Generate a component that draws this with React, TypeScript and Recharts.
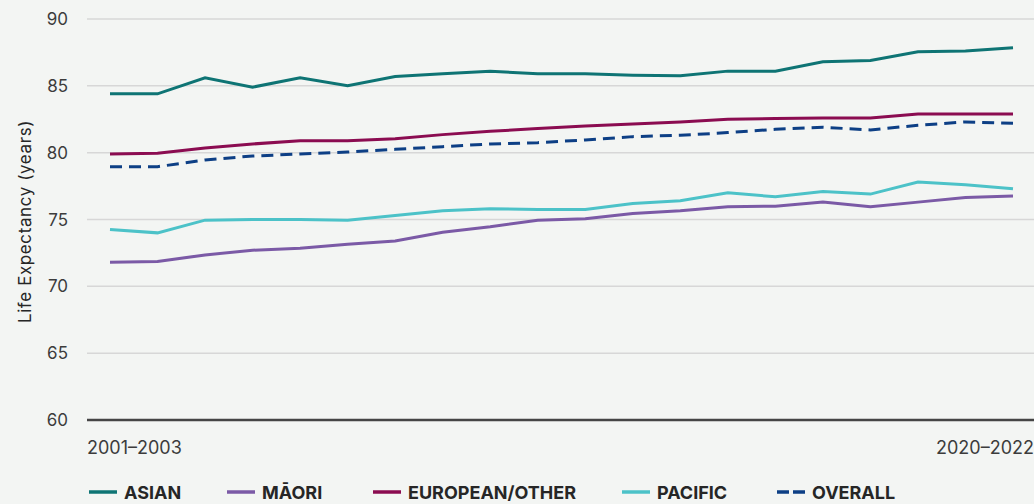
import React from 'react';
import { LineChart, Line, XAxis, YAxis, CartesianGrid, Legend, Label } from 'recharts';

const periods = [
  '2001–2003', '2002–2004', '2003–2005', '2004–2006', '2005–2007',
  '2006–2008', '2007–2009', '2008–2010', '2009–2011', '2010–2012',
  '2011–2013', '2012–2014', '2013–2015', '2014–2016', '2015–2017',
  '2016–2018', '2017–2019', '2018–2020', '2019–2021', '2020–2022',
];

const asian = [84.4, 84.4, 85.6, 84.9, 85.6, 85.0, 85.7, 85.9, 86.1, 85.9, 85.9, 85.8, 85.75, 86.1, 86.1, 86.8, 86.9, 87.55, 87.6, 87.85];
const maori = [71.8, 71.85, 72.35, 72.7, 72.85, 73.15, 73.4, 74.05, 74.45, 74.95, 75.05, 75.45, 75.65, 75.95, 76.0, 76.3, 75.95, 76.3, 76.65, 76.75];
const european = [79.9, 79.95, 80.35, 80.65, 80.9, 80.9, 81.05, 81.35, 81.6, 81.8, 82.0, 82.15, 82.3, 82.5, 82.55, 82.6, 82.6, 82.9, 82.9, 82.9];
const pacific = [74.25, 74.0, 74.95, 75.0, 75.0, 74.95, 75.3, 75.65, 75.8, 75.75, 75.75, 76.2, 76.4, 77.0, 76.7, 77.1, 76.9, 77.8, 77.6, 77.3];
const overall = [78.95, 78.95, 79.45, 79.75, 79.9, 80.05, 80.25, 80.45, 80.65, 80.75, 80.95, 81.2, 81.3, 81.5, 81.75, 81.9, 81.7, 82.05, 82.3, 82.2];

const yTicks = [60, 65, 70, 75, 80, 85, 90];

const series = [
  { key: 'asian', name: 'ASIAN', color: '#0e7474', dash: undefined },
  { key: 'maori', name: 'MĀORI', color: '#7b5aa6', dash: undefined },
  { key: 'european', name: 'EUROPEAN/OTHER', color: '#8b0c51', dash: undefined },
  { key: 'pacific', name: 'PACIFIC', color: '#4cc2c8', dash: undefined },
  { key: 'overall', name: 'OVERALL', color: '#0d3f85', dash: '12 7' },
];

// legend slot widths, so items start where the original's do
const legendWidths = [138, 146, 249, 155, 160];

const data = periods.map((period, i) => ({
  period,
  asian: asian[i],
  maori: maori[i],
  european: european[i],
  pacific: pacific[i],
  overall: overall[i],
}));

const FONT = 'Inter, "Noto Sans", sans-serif';

const XTick = (props: any) => {
  const { x, y, payload, index } = props;
  const last = periods.length - 1;
  if (index !== 0 && index !== last) return null;
  const first = index === 0;
  return (
    <text
      x={first ? x - 23 : x + 21}
      y={y + 26}
      textAnchor={first ? 'start' : 'end'}
      fill="#3c3c3c"
      fontSize={18}
      fontFamily={FONT}
    >
      {payload.value}
    </text>
  );
};

const LegendContent = () => (
  <div style={{ display: 'flex', alignItems: 'center', paddingLeft: 88, paddingTop: 20, height: 24, fontFamily: FONT }}>
    {series.map((s, i) => (
      <div key={s.key} style={{ display: 'flex', alignItems: 'center', width: legendWidths[i] }}>
        <svg width={30} height={6} style={{ marginRight: 6 }}>
          <line x1={1} y1={3} x2={29} y2={3} stroke={s.color} strokeWidth={3.5} strokeDasharray={s.dash ? '12 4' : undefined} />
        </svg>
        <span style={{ fontWeight: 700, fontSize: 18, color: '#262626' }}>{s.name}</span>
      </div>
    ))}
  </div>
);

const App: React.FC = () => {
  return (
    <div style={{ position: 'absolute', left: 0, top: 0, width: 1034, height: 504, background: '#f3f5f3' }}>
      <LineChart width={1034} height={504} data={data} margin={{ top: 19, right: 0, left: 0, bottom: 0 }}>
        <CartesianGrid vertical={false} stroke="#d7d7d7" strokeWidth={1.5} />
        <XAxis
          dataKey="period"
          interval={0}
          tick={<XTick />}
          tickLine={false}
          axisLine={{ stroke: '#454545', strokeWidth: 2.5 }}
          padding={{ left: 23, right: 21 }}
          height={40}
        />
        <YAxis
          domain={[60, 90]}
          ticks={yTicks}
          axisLine={false}
          tickLine={false}
          width={87}
          tickMargin={13}
          tick={{ fill: '#3c3c3c', fontSize: 17, fontFamily: FONT }}
        >
          <Label
            value="Life Expectancy (years)"
            angle={-90}
            position="insideLeft"
            dx={20}
            dy={2}
            style={{ textAnchor: 'middle', fill: '#262626', fontSize: 17, letterSpacing: 0.6, fontFamily: FONT }}
          />
        </YAxis>
        <Legend verticalAlign="bottom" height={44} content={<LegendContent />} />
        {series.map((s) => (
          <Line
            key={s.key}
            type="linear"
            dataKey={s.key}
            name={s.name}
            stroke={s.color}
            strokeWidth={3}
            strokeDasharray={s.dash}
            dot={false}
            activeDot={false}
            isAnimationActive={false}
          />
        ))}
      </LineChart>
    </div>
  );
};

export default App;
